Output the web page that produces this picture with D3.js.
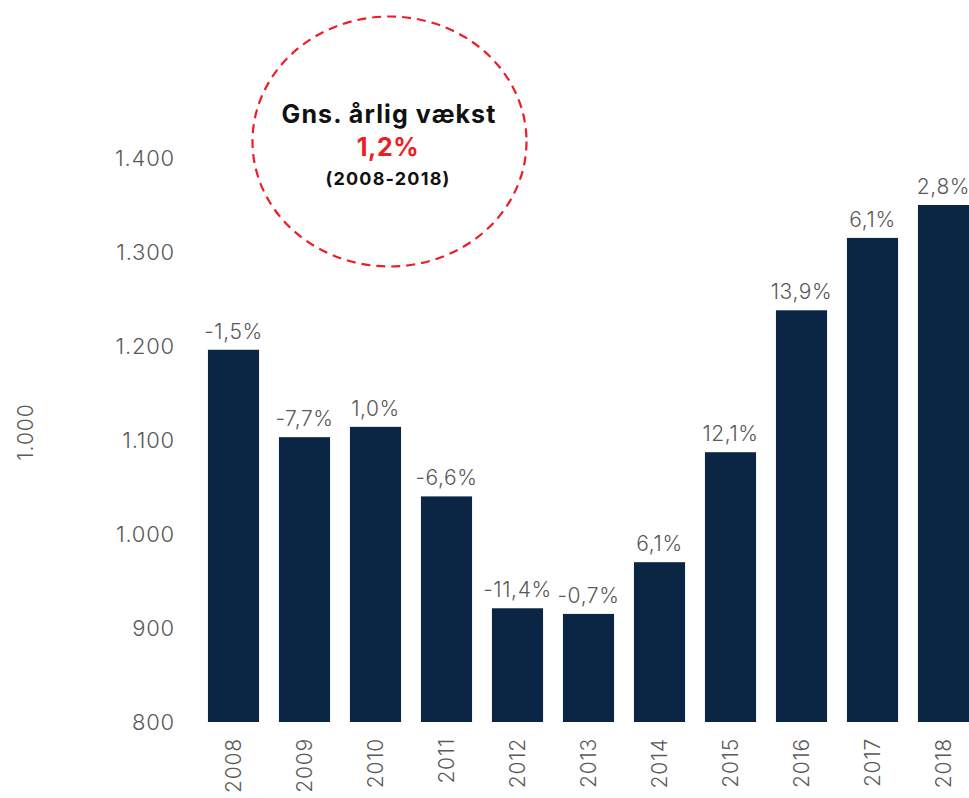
<!DOCTYPE html>
<html>
<head>
<meta charset="utf-8">
<script src="https://cdn.jsdelivr.net/npm/d3@7"></script>
<style>
  html, body { margin: 0; padding: 0; background: #fff; }
  svg { display: block; }
  text { font-family: "Inter", "Open Sans", "DejaVu Sans", sans-serif; }
</style>
</head>
<body>
<svg id="chart" width="969" height="798"></svg>
<script>
const years = ["2008","2009","2010","2011","2012","2013","2014","2015","2016","2017","2018"];
const values = [1196, 1103, 1114, 1040, 921, 915, 970, 1087, 1238, 1315, 1350];
const growthLabels = ["-1,5%","-7,7%","1,0%","-6,6%","-11,4%","-0,7%","6,1%","12,1%","13,9%","6,1%","2,8%"];
const yTicks = [800, 900, 1000, 1100, 1200, 1300, 1400];
const yAxisTitle = "1.000";
const calloutLines = ["Gns. årlig vækst", "1,2%", "(2008-2018)"];

const svg = d3.select("#chart");
const barColor = "#0b2644";
const textColor = "#595959";

const x = d3.scaleBand().domain(years).range([198, 979]).paddingInner(0.28).paddingOuter(0.14);
const y = d3.scaleLinear().domain([800, 1400]).range([722, 158]);

const fmt = d => d3.format(",")(d).replace(/,/g, ".");

// y axis
const yAxis = d3.axisLeft(y).tickValues(yTicks).tickFormat(fmt).tickSize(0).tickPadding(0);
const gy = svg.append("g").attr("transform", "translate(175,0)").call(yAxis);
gy.select(".domain").remove();
gy.selectAll("text")
  .attr("fill", textColor)
  .style("font-size", "22px")
  .style("font-weight", "300")
  .style("letter-spacing", "0.8px")
  .attr("dy", "0.36em");

// bars
svg.append("g").selectAll("rect")
  .data(years)
  .join("rect")
  .attr("x", d => x(d))
  .attr("width", x.bandwidth())
  .attr("y", (d, i) => y(values[i]))
  .attr("height", (d, i) => y(800) - y(values[i]))
  .attr("fill", barColor);

// value labels
svg.append("g").selectAll("text")
  .data(years)
  .join("text")
  .attr("x", d => x(d) + x.bandwidth() / 2)
  .attr("y", (d, i) => y(values[i]) - 11)
  .attr("text-anchor", "middle")
  .attr("fill", textColor)
  .style("font-size", "21px")
  .style("font-weight", "300")
  .style("letter-spacing", "0.6px")
  .text((d, i) => growthLabels[i]);

// x axis
const xAxis = d3.axisBottom(x).tickSize(0).tickPadding(0);
const gx = svg.append("g").attr("transform", "translate(0,738)").call(xAxis);
gx.select(".domain").remove();
gx.selectAll("text")
  .attr("fill", textColor)
  .style("font-size", "21px")
  .style("font-weight", "300")
  .style("letter-spacing", "0.8px")
  .attr("text-anchor", "end")
  .attr("transform", "rotate(-90)")
  .attr("x", 0)
  .attr("y", 0)
  .attr("dy", "0.36em");

// y axis title
svg.append("text")
  .attr("transform", "translate(33,432) rotate(-90)")
  .attr("text-anchor", "middle")
  .attr("fill", textColor)
  .style("font-size", "21px")
  .style("font-weight", "300")
  .style("letter-spacing", "1px")
  .text(yAxisTitle);

// callout circle
svg.append("ellipse")
  .attr("cx", 389.5).attr("cy", 141.5)
  .attr("rx", 137).attr("ry", 125)
  .attr("fill", "none")
  .attr("stroke", "#ee1c25")
  .attr("stroke-width", 2.2)
  .attr("stroke-dasharray", "9,6");

svg.append("text")
  .attr("x", 389).attr("y", 123)
  .attr("text-anchor", "middle")
  .attr("fill", "#111")
  .style("font-size", "25px").style("font-weight", "700")
  .style("letter-spacing", "1.1px")
  .text(calloutLines[0]);
svg.append("text")
  .attr("x", 388).attr("y", 156)
  .attr("text-anchor", "middle")
  .attr("fill", "#ee1c25")
  .style("font-size", "25px").style("font-weight", "700")
  .style("letter-spacing", "0.6px")
  .text(calloutLines[1]);
svg.append("text")
  .attr("x", 388).attr("y", 185)
  .attr("text-anchor", "middle")
  .attr("fill", "#111")
  .style("font-size", "18px").style("font-weight", "700")
  .style("letter-spacing", "1.2px")
  .text(calloutLines[2]);
</script>
</body>
</html>
